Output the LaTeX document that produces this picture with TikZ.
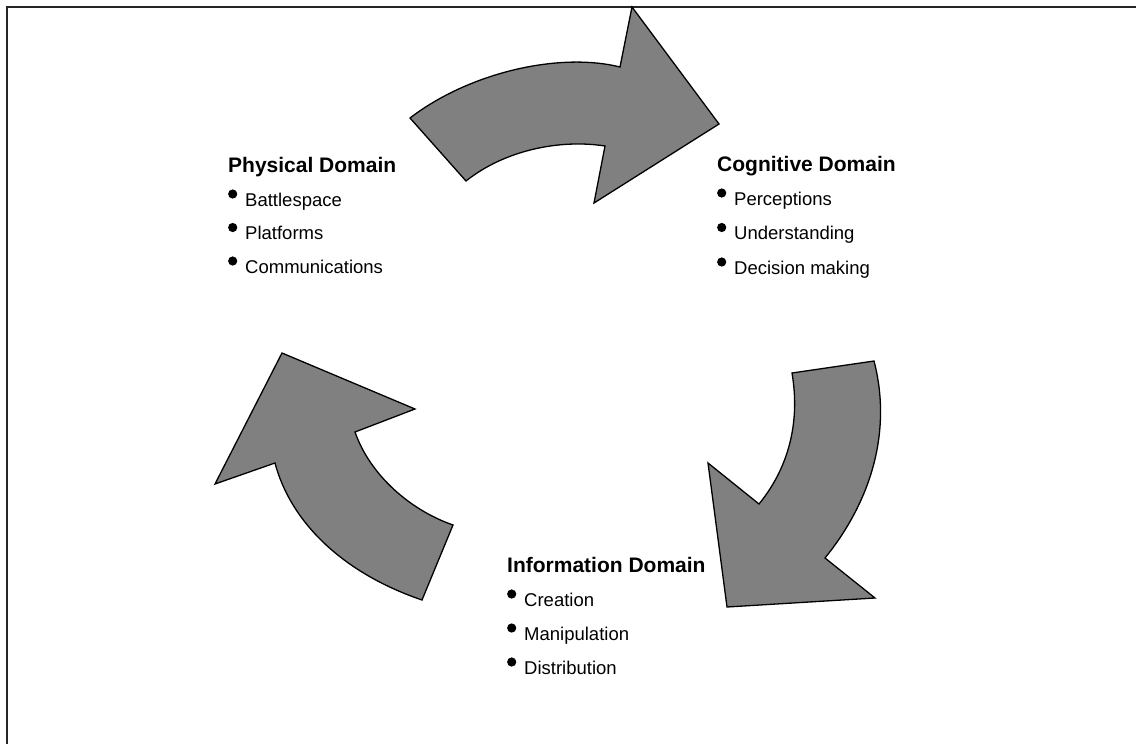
\documentclass[tikz,border=0pt]{standalone}
\usepackage{fontspec}
\setmainfont{Liberation Sans}
\tikzset{
  bigarrow/.style={fill=black!50, draw=black, line width=1.3pt, line join=miter},
  frameline/.style={draw=black!85, line width=2.4pt},
  title/.style={anchor=base west, inner sep=0pt, font=\fontsize{21}{21}\selectfont\bfseries},
  item/.style={anchor=base west, inner sep=0pt, font=\fontsize{18.5}{18.5}\selectfont},
  bulletdot/.style={fill=black},
}
\newcommand{\bulat}[1]{\fill[bulletdot] ([xshift=-12.3pt,yshift=12pt]#1.base west) circle (4.6pt);}
\begin{document}
\begin{tikzpicture}[x=1pt,y=-1pt]
\useasboundingbox (0,0) rectangle (1136,744);
% frame
\coordinate (fa) at (7,744);
\coordinate (fb) at (7,7);
\coordinate (fc) at (1136,7);
\draw[frameline] (fa) -- (fb) -- (fc);

% top arrow (Physical -> Cognitive)
\draw[bigarrow] (410,118) .. controls (470,72) and (560,52) .. (620,67)
  -- (632,7) -- (719,124) -- (594,203) -- (605,146)
  .. controls (560,139) and (505,150) .. (466,181) -- cycle;

% right arrow (Cognitive -> Information)
\draw[bigarrow] (874,361) .. controls (892,430) and (872,500) .. (825,558)
  -- (875,598) -- (727,607) -- (708,463) -- (759,504)
  .. controls (790,466) and (800,420) .. (792,373) -- cycle;

% left arrow (Information -> Physical)
\draw[bigarrow] (453,525) .. controls (410,510) and (370,475) .. (355,432)
  -- (415,409) -- (282,353) -- (215,484) -- (275,463)
  .. controls (290,520) and (340,572) .. (422,600) -- cycle;

% Physical Domain
\node[title] (pt) at (228,172.5) {Physical Domain};
\node[item] (p1) at (245,206) {Battlespace};
\node[item] (p2) at (245,239.5) {Platforms};
\node[item] (p3) at (245,273) {Communications};
\bulat{p1}\bulat{p2}\bulat{p3}

% Cognitive Domain
\node[title] (ct) at (717,171.5) {Cognitive Domain};
\node[item] (c1) at (734,205) {Perceptions};
\node[item] (c2) at (734,239.5) {Understanding};
\node[item] (c3) at (734,274) {Decision making};
\bulat{c1}\bulat{c2}\bulat{c3}

% Information Domain
\node[title] (it) at (507,572) {Information Domain};
\node[item] (i1) at (524,606) {Creation};
\node[item] (i2) at (524,640) {Manipulation};
\node[item] (i3) at (524,674) {Distribution};
\bulat{i1}\bulat{i2}\bulat{i3}
\end{tikzpicture}
\end{document}
